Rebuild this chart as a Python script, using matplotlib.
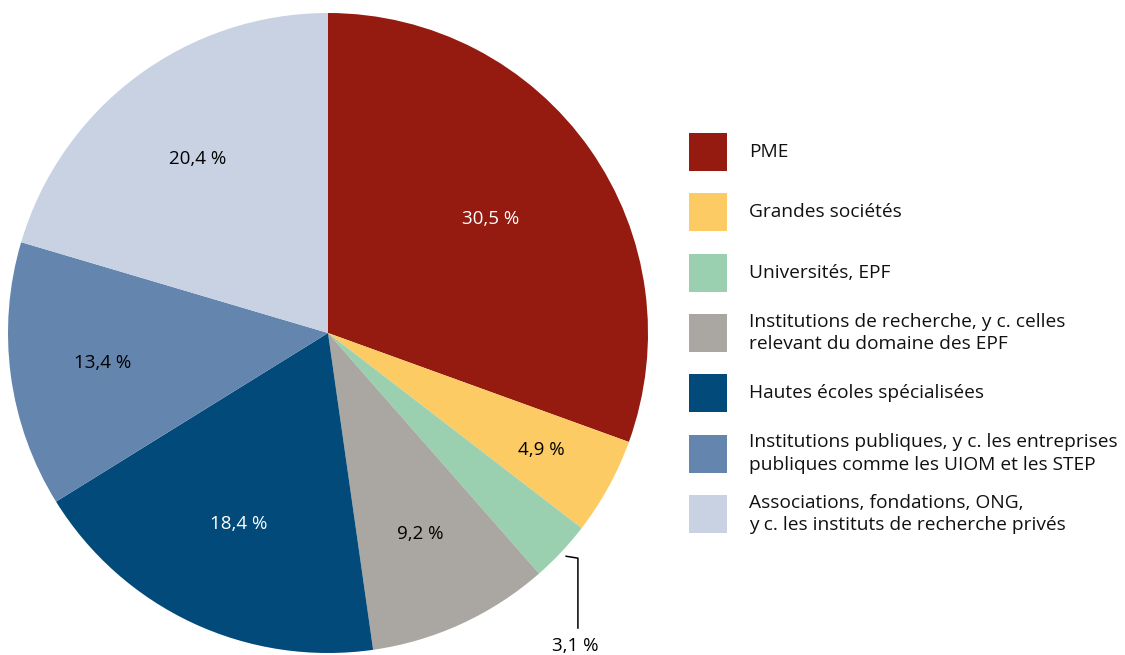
import numpy as np
import matplotlib.pyplot as plt
from matplotlib.patches import Rectangle

# Data
categories = [
    "PME",
    "Grandes sociétés",
    "Universités, EPF",
    "Institutions de recherche, y c. celles\nrelevant du domaine des EPF",
    "Hautes écoles spécialisées",
    "Institutions publiques, y c. les entreprises\npubliques comme les UIOM et les STEP",
    "Associations, fondations, ONG,\ny c. les instituts de recherche privés",
]
shares = [30.5, 4.9, 3.1, 9.2, 18.4, 13.4, 20.4]
colors = ["#951a0f", "#fdcb63", "#9acfb0", "#aaa7a2", "#014a7a", "#6385ae", "#c8d2e3"]
label_colors = ["white", "black", "black", "black", "white", "black", "black"]
label_radius = [0.62, 0.76, None, 0.69, 0.66, 0.71, 0.68]

plt.rcParams['font.family'] = ['Open Sans', 'DejaVu Sans']

W, H = 1125, 655
fig = plt.figure(figsize=(W / 100, H / 100), dpi=100)

# pie axes, centred at (328, 333) px with radius 320 px
ax = fig.add_axes([8 / W, (H - 653) / H, 640 / W, 640 / H])
wedges, _ = ax.pie(shares, colors=colors, startangle=90, counterclock=False,
                   radius=1, wedgeprops=dict(linewidth=0))
ax.set_xlim(-1, 1)
ax.set_ylim(-1, 1)
ax.set_aspect('equal')
ax.axis('off')

def fmt(v):
    return ("%.1f %%" % v).replace(".", ",")

for w, v, r, c in zip(wedges, shares, label_radius, label_colors):
    mid = np.deg2rad((w.theta1 + w.theta2) / 2)
    if r is None:
        # small slice: leader line below
        x0, y0 = 1.02 * np.cos(mid), 1.02 * np.sin(mid)
        ax.plot([x0, 0.781, 0.781], [y0, y0 - 0.006, -0.922], color="black",
                lw=1.1, clip_on=False)
        ax.text(0.772, -0.978, fmt(v), ha="center", va="center", fontsize=13.5,
                color=c, clip_on=False)
    else:
        ax.text(r * np.cos(mid), r * np.sin(mid), fmt(v), ha="center", va="center",
                fontsize=13.5, color=c)

# legend drawn in pixel coordinates
lax = fig.add_axes([0, 0, 1, 1])
lax.set_xlim(0, W)
lax.set_ylim(H, 0)
lax.axis('off')
row_y = 152
for name, col in zip(categories, colors):
    lax.add_patch(Rectangle((689, row_y - 19), 38, 38, color=col, lw=0))
    lax.text(749, row_y, name, ha="left", va="center", fontsize=13.8,
             linespacing=1.3, color="#111111")
    row_y += 60.3

fig.savefig("out.png", dpi=100)
